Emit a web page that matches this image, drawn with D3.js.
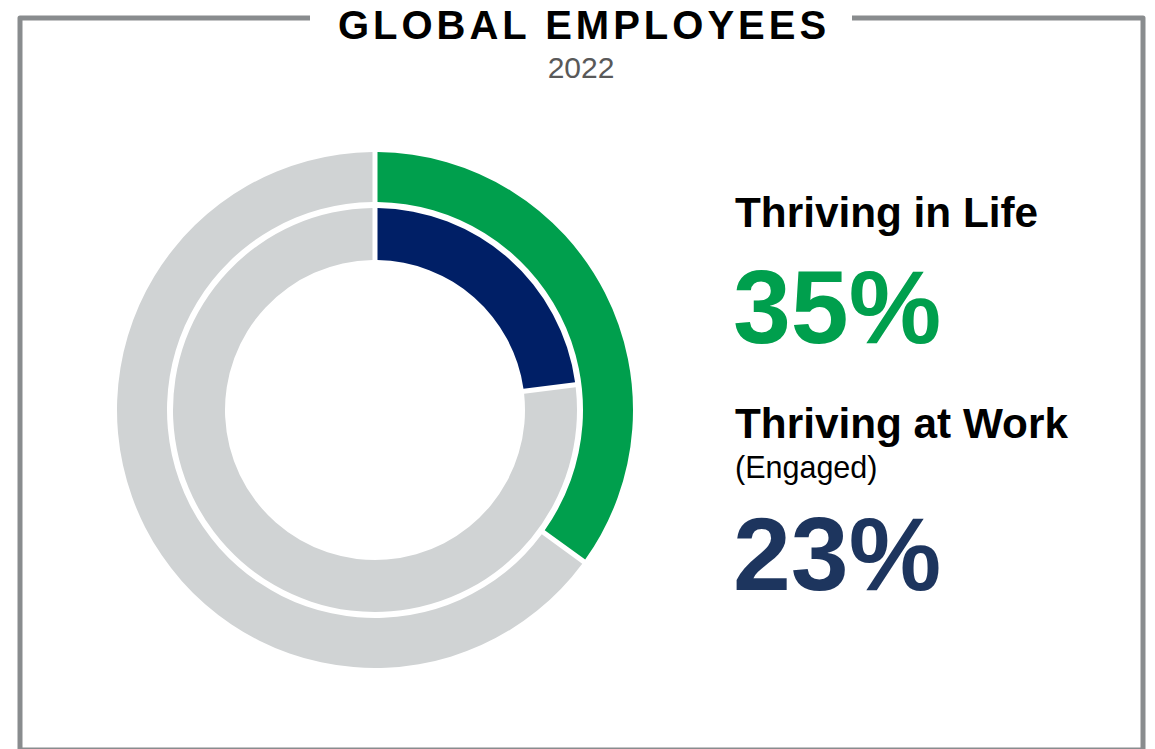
<!DOCTYPE html>
<html>
<head>
<meta charset="utf-8">
<script src="https://cdn.jsdelivr.net/npm/d3@7"></script>
<style>
  html, body { margin: 0; padding: 0; background: #ffffff; }
  svg { display: block; font-family: "Liberation Sans", Arial, sans-serif; }
</style>
</head>
<body>
<svg id="chart" width="1155" height="749"></svg>
<script>
// Ring measures (percent of employees), outer ring first
const measures = ["Thriving in Life", "Thriving at Work"];
const measureNotes = ["", "(Engaged)"];
const thrivingPct = [35, 23];
const ringColors = ["#009F4D", "#001F66"];
const labelColors = ["#009F4D", "#1D355E"];
const restColor = "#D0D3D4";

const titleText = "GLOBAL EMPLOYEES";
const yearText = "2022";

const svg = d3.select("#chart");

// Frame with a break at the top for the title
const frame = d3.path();
frame.moveTo(310, 18);
frame.lineTo(20, 18);
frame.lineTo(20, 750);
frame.lineTo(1143, 750);
frame.lineTo(1143, 18);
frame.lineTo(852, 18);
svg.append("path")
  .attr("d", frame.toString())
  .attr("fill", "none")
  .attr("stroke", "#898C8E")
  .attr("stroke-width", 5)
  .attr("stroke-linejoin", "round");

// Title and year
svg.append("text")
  .attr("x", 582 + 2)
  .attr("y", 39)
  .attr("text-anchor", "middle")
  .attr("font-size", 40)
  .attr("font-weight", "bold")
  .attr("letter-spacing", 4)
  .attr("fill", "#000000")
  .text(titleText);

svg.append("text")
  .attr("x", 581)
  .attr("y", 78)
  .attr("text-anchor", "middle")
  .attr("font-size", 30)
  .attr("fill", "#595959")
  .text(yearText);

// Nested donut
const cx = 375, cy = 410;
const ringRadii = [[208, 258], [150, 202]];

const pie = d3.pie().sort(null).value(d => d.value);
const g = svg.append("g").attr("transform", `translate(${cx},${cy})`);

measures.forEach((m, i) => {
  const slices = pie([
    { key: "thriving", value: thrivingPct[i] },
    { key: "rest", value: 100 - thrivingPct[i] }
  ]);
  const arc = d3.arc()
    .innerRadius(ringRadii[i][0])
    .outerRadius(ringRadii[i][1])
    .padRadius(100)
    .padAngle(0.05);
  g.append("g")
    .selectAll("path")
    .data(slices)
    .join("path")
    .attr("d", arc)
    .attr("fill", d => d.data.key === "thriving" ? ringColors[i] : restColor);
});

// Legend text block
const tx = 735;
const blocks = [
  { label: 227, note: null, value: 343 },
  { label: 438, note: 478, value: 590 }
];
blocks.forEach((b, i) => {
  svg.append("text")
    .attr("x", tx).attr("y", b.label)
    .attr("font-size", 42.3)
    .attr("font-weight", "bold")
    .attr("fill", "#000000")
    .text(measures[i]);
  if (b.note !== null && measureNotes[i]) {
    svg.append("text")
      .attr("x", tx).attr("y", b.note)
      .attr("font-size", 30.5)
      .attr("fill", "#000000")
      .text(measureNotes[i]);
  }
  svg.append("text")
    .attr("x", tx - 2).attr("y", b.value)
    .attr("font-size", 104)
    .attr("font-weight", "bold")
    .attr("fill", labelColors[i])
    .text(d3.format("d")(thrivingPct[i]) + "%");
});
</script>
</body>
</html>
